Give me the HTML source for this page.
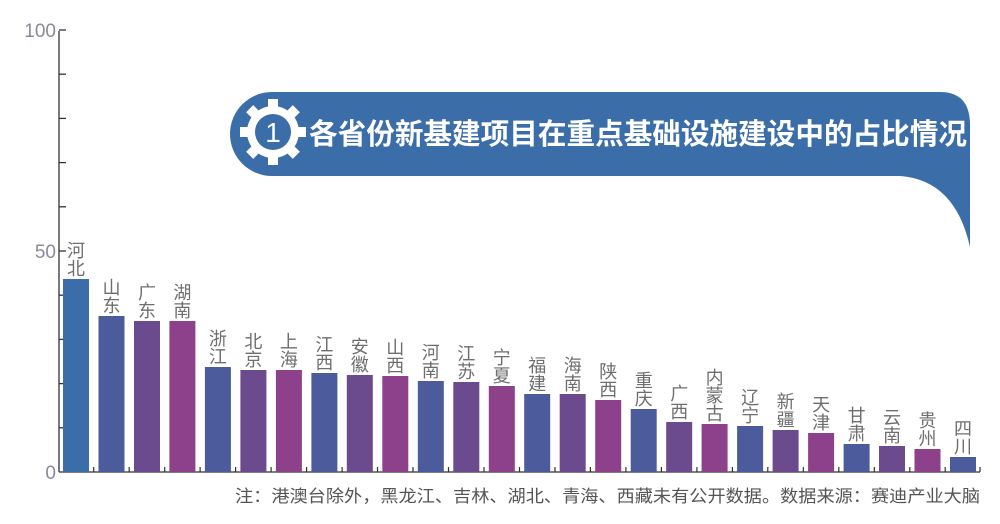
<!DOCTYPE html>
<html><head><meta charset="utf-8"><style>
html,body{margin:0;padding:0;background:#fff;}
svg{display:block;}
text{font-family:"Liberation Sans","Noto Sans CJK SC",sans-serif;}
</style></head><body>
<svg width="1000" height="524" viewBox="0 0 1000 524" xmlns="http://www.w3.org/2000/svg">
<g stroke="#333" stroke-width="1.3">
<line x1="59" y1="31" x2="59" y2="472"/>
<line x1="59" y1="472" x2="980" y2="472"/>
<line x1="59" y1="30" x2="66" y2="30"/><line x1="59" y1="74.2" x2="66" y2="74.2"/><line x1="59" y1="118.4" x2="66" y2="118.4"/><line x1="59" y1="162.6" x2="66" y2="162.6"/><line x1="59" y1="206.8" x2="66" y2="206.8"/><line x1="59" y1="251" x2="66" y2="251"/><line x1="59" y1="295.2" x2="66" y2="295.2"/><line x1="59" y1="339.4" x2="66" y2="339.4"/><line x1="59" y1="383.6" x2="66" y2="383.6"/><line x1="59" y1="427.8" x2="66" y2="427.8"/>
</g>
<g fill="#8a8a9a" font-size="19" text-anchor="end">
<text x="56" y="37">100</text><text x="56" y="258">50</text><text x="56" y="479">0</text>
</g>
<path d="M272,92 L940,92 Q970,92 970,125 L970,247 Q955,180 900,176 L272,176 A42,42 0 0 1 272,92 Z" fill="#3b6ea8"/>
<g transform="translate(273,132)" fill="#fff">
<circle r="26"/>
<g>
<rect x="-5" y="-33" width="10" height="10"/>
<rect x="-5" y="-33" width="10" height="10" transform="rotate(45)"/>
<rect x="-5" y="-33" width="10" height="10" transform="rotate(90)"/>
<rect x="-5" y="-33" width="10" height="10" transform="rotate(135)"/>
<rect x="-5" y="-33" width="10" height="10" transform="rotate(180)"/>
<rect x="-5" y="-33" width="10" height="10" transform="rotate(225)"/>
<rect x="-5" y="-33" width="10" height="10" transform="rotate(270)"/>
<rect x="-5" y="-33" width="10" height="10" transform="rotate(315)"/>
</g>
<circle r="18" fill="#3b6ea8"/>
<text x="0" y="10" font-size="28" text-anchor="middle" fill="#fff">1</text>
</g>
<text x="309" y="144" font-size="29" font-weight="bold" fill="#fff" textLength="658" lengthAdjust="spacingAndGlyphs">各省份新基建项目在重点基础设施建设中的占比情况</text>
<g>
<rect x="63" y="279" width="26" height="193" fill="#3b6ea8"/>
<rect x="98.5" y="316" width="26" height="156" fill="#4b5b9b"/>
<rect x="134" y="321" width="26" height="151" fill="#6b4b8e"/>
<rect x="169.4" y="321" width="26" height="151" fill="#8e418b"/>
<rect x="204.9" y="367" width="26" height="105" fill="#4b5b9b"/>
<rect x="240.4" y="370" width="26" height="102" fill="#6b4b8e"/>
<rect x="275.9" y="370" width="26" height="102" fill="#8e418b"/>
<rect x="311.4" y="373" width="26" height="99" fill="#4b5b9b"/>
<rect x="346.8" y="375" width="26" height="97" fill="#6b4b8e"/>
<rect x="382.3" y="376" width="26" height="96" fill="#8e418b"/>
<rect x="417.8" y="381" width="26" height="91" fill="#4b5b9b"/>
<rect x="453.3" y="382" width="26" height="90" fill="#6b4b8e"/>
<rect x="488.8" y="386" width="26" height="86" fill="#8e418b"/>
<rect x="524.2" y="394" width="26" height="78" fill="#4b5b9b"/>
<rect x="559.7" y="394" width="26" height="78" fill="#6b4b8e"/>
<rect x="595.2" y="400" width="26" height="72" fill="#8e418b"/>
<rect x="630.7" y="409" width="26" height="63" fill="#4b5b9b"/>
<rect x="666.2" y="422" width="26" height="50" fill="#6b4b8e"/>
<rect x="701.6" y="424" width="26" height="48" fill="#8e418b"/>
<rect x="737.1" y="426" width="26" height="46" fill="#4b5b9b"/>
<rect x="772.6" y="430" width="26" height="42" fill="#6b4b8e"/>
<rect x="808.1" y="433" width="26" height="39" fill="#8e418b"/>
<rect x="843.6" y="444" width="26" height="28" fill="#4b5b9b"/>
<rect x="879" y="446" width="26" height="26" fill="#6b4b8e"/>
<rect x="914.5" y="449" width="26" height="23" fill="#8e418b"/>
<rect x="950" y="457" width="26" height="15" fill="#4b5b9b"/>
</g>
<g stroke="#333" stroke-width="1.2">
<line x1="93.7" y1="467" x2="93.7" y2="472"/><line x1="129.2" y1="467" x2="129.2" y2="472"/><line x1="164.7" y1="467" x2="164.7" y2="472"/><line x1="200.1" y1="467" x2="200.1" y2="472"/><line x1="235.6" y1="467" x2="235.6" y2="472"/><line x1="271.1" y1="467" x2="271.1" y2="472"/><line x1="306.6" y1="467" x2="306.6" y2="472"/><line x1="342.1" y1="467" x2="342.1" y2="472"/><line x1="377.5" y1="467" x2="377.5" y2="472"/><line x1="413" y1="467" x2="413" y2="472"/><line x1="448.5" y1="467" x2="448.5" y2="472"/><line x1="484" y1="467" x2="484" y2="472"/><line x1="519.5" y1="467" x2="519.5" y2="472"/><line x1="555" y1="467" x2="555" y2="472"/><line x1="590.4" y1="467" x2="590.4" y2="472"/><line x1="625.9" y1="467" x2="625.9" y2="472"/><line x1="661.4" y1="467" x2="661.4" y2="472"/><line x1="696.9" y1="467" x2="696.9" y2="472"/><line x1="732.4" y1="467" x2="732.4" y2="472"/><line x1="767.8" y1="467" x2="767.8" y2="472"/><line x1="803.3" y1="467" x2="803.3" y2="472"/><line x1="838.8" y1="467" x2="838.8" y2="472"/><line x1="874.3" y1="467" x2="874.3" y2="472"/><line x1="909.8" y1="467" x2="909.8" y2="472"/><line x1="945.2" y1="467" x2="945.2" y2="472"/><line x1="980" y1="467" x2="980" y2="472"/>
</g>
<g fill="#6e6e6e" font-size="18" text-anchor="middle">
<text x="76" y="257">河</text><text x="76" y="275">北</text>
<text x="111.5" y="294">山</text><text x="111.5" y="312">东</text>
<text x="147" y="299">广</text><text x="147" y="317">东</text>
<text x="182.4" y="299">湖</text><text x="182.4" y="317">南</text>
<text x="217.9" y="345">浙</text><text x="217.9" y="363">江</text>
<text x="253.4" y="348">北</text><text x="253.4" y="366">京</text>
<text x="288.9" y="348">上</text><text x="288.9" y="366">海</text>
<text x="324.4" y="351">江</text><text x="324.4" y="369">西</text>
<text x="359.8" y="353">安</text><text x="359.8" y="371">徽</text>
<text x="395.3" y="354">山</text><text x="395.3" y="372">西</text>
<text x="430.8" y="359">河</text><text x="430.8" y="377">南</text>
<text x="466.3" y="360">江</text><text x="466.3" y="378">苏</text>
<text x="501.8" y="364">宁</text><text x="501.8" y="382">夏</text>
<text x="537.2" y="372">福</text><text x="537.2" y="390">建</text>
<text x="572.7" y="372">海</text><text x="572.7" y="390">南</text>
<text x="608.2" y="378">陕</text><text x="608.2" y="396">西</text>
<text x="643.7" y="387">重</text><text x="643.7" y="405">庆</text>
<text x="679.2" y="400">广</text><text x="679.2" y="418">西</text>
<text x="714.6" y="384">内</text><text x="714.6" y="402">蒙</text><text x="714.6" y="420">古</text>
<text x="750.1" y="404">辽</text><text x="750.1" y="422">宁</text>
<text x="785.6" y="408">新</text><text x="785.6" y="426">疆</text>
<text x="821.1" y="411">天</text><text x="821.1" y="429">津</text>
<text x="856.6" y="422">甘</text><text x="856.6" y="440">肃</text>
<text x="892" y="424">云</text><text x="892" y="442">南</text>
<text x="927.5" y="427">贵</text><text x="927.5" y="445">州</text>
<text x="963" y="435">四</text><text x="963" y="453">川</text>
</g>
<text x="235" y="502" font-size="17" fill="#555" textLength="745" lengthAdjust="spacingAndGlyphs">注：港澳台除外，黑龙江、吉林、湖北、青海、西藏未有公开数据。数据来源：赛迪产业大脑</text>
</svg>
</body></html>
